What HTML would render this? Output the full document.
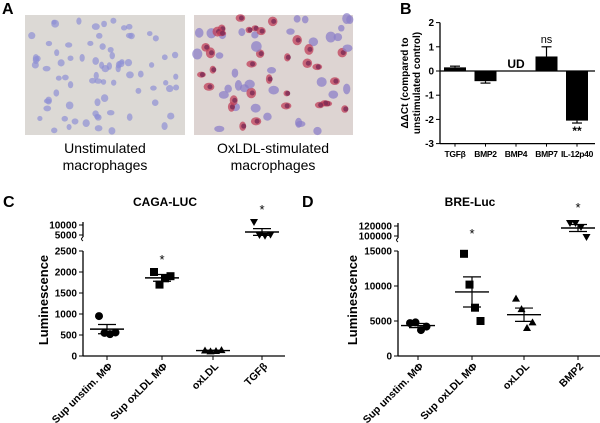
<!DOCTYPE html>
<html><head><meta charset="utf-8"><style>
html,body{margin:0;padding:0;background:#fff}
svg{display:block;font-family:"Liberation Sans",sans-serif}
</style></head><body>
<svg id="fig" width="600" height="423" viewBox="0 0 600 423">
<g id="panelA">
<text x="2" y="14" font-size="16" font-weight="bold">A</text>
<rect x="25" y="15" width="160" height="120" fill="#dcd9d5"/>
<rect x="194" y="15" width="159" height="120" fill="#ddd4d2"/>
<g id="cellsL"></g><g id="cellsR"></g>
<text x="105" y="153" font-size="14" text-anchor="middle"><tspan x="105">Unstimulated</tspan><tspan x="105" dy="17">macrophages</tspan></text>
<text x="273" y="153" font-size="14" text-anchor="middle"><tspan x="273">OxLDL-stimulated</tspan><tspan x="273" dy="17">macrophages</tspan></text>
</g>
<g id="panelB">
<text x="400" y="14" font-size="16" font-weight="bold">B</text>
<text transform="translate(408,83) rotate(-90)" font-size="10" font-weight="bold" text-anchor="middle">ΔΔCt (compared to</text>
<text transform="translate(420,83) rotate(-90)" font-size="10" font-weight="bold" text-anchor="middle">unstimulated control)</text>
<g id="bPlot"></g>
</g>
<g id="panelC">
<text x="3" y="207" font-size="16" font-weight="bold">C</text>
<text x="165" y="206" font-size="12" font-weight="bold" text-anchor="middle">CAGA-LUC</text>
<text transform="translate(48,300) rotate(-90)" font-size="13" font-weight="bold" text-anchor="middle">Luminescence</text>
<g id="cPlot"></g>
</g>
<g id="panelD">
<text x="302" y="207" font-size="16" font-weight="bold">D</text>
<text x="470" y="206" font-size="12" font-weight="bold" text-anchor="middle">BRE-Luc</text>
<text transform="translate(357,300) rotate(-90)" font-size="13" font-weight="bold" text-anchor="middle">Luminescence</text>
<g id="dPlot"></g>
</g>
</svg>
<script>
// ---- Panel B data ----
const bCats = ["TGFβ","BMP2","BMP4","BMP7","IL-12p40"];
const bVals = [0.15,-0.42,null,0.6,-2.05];
const bErr = [0.05,0.08,0,0.4,0.1];
const bTicks = [2,1,0,-1,-2,-3];
const bAnn = ["","","UD","ns","**"];
// ---- Panel C data ----
const cCats = ["Sup unstim. MΦ","Sup oxLDL MΦ","oxLDL","TGFβ"];
const cPts = [[950,550,520,560],[2000,1700,1850,1900],[130,110,120,140],[11500,5000,4600,5200]];
const cMean = [640,1860,130,6500];
const cSem = [110,80,8,1700];
const cLowTicks = [0,500,1000,1500,2000,2500];
const cHighTicks = [5000,10000];
const cStars = [false,true,false,true];
// ---- Panel D data ----
const dCats = ["Sup unstim. MΦ","Sup oxLDL MΦ","oxLDL","BMP2"];
const dPts = [[4700,4800,3700,4200],[14600,10200,6900,5000],[8200,6700,4000,4800],[126000,126000,118000,98000]];
const dMean = [4350,9150,5900,116000];
const dSem = [300,2150,950,7000];
const dLowTicks = [0,5000,10000,15000];
const dHighTicks = [100000,120000];
const dStars = [false,true,false,true];

const NS="http://www.w3.org/2000/svg";
function mk(parent,tag,attrs,name){const e=document.createElementNS(NS,tag);for(const k in attrs)e.setAttribute(k,attrs[k]);


parent.appendChild(e);return e;}

// decorative cells
(function(){let s=7;const r=()=>{s=(s*9301+49297)%233280;return s/233280;};
const L=document.getElementById('cellsL'),R=document.getElementById('cellsR');
for(let i=0;i<80;i++){mk(L,'ellipse',{cx:28+r()*154,cy:18+r()*114,rx:2.5+r()*1.5,ry:2.5+r()*1.5,fill:'#8f90d4',opacity:0.7},'cell-nucleus');}
for(let i=0;i<70;i++){const x=197+r()*153,y=18+r()*114,red=r()>0.4;
mk(R,'ellipse',{cx:x,cy:y,rx:3+r()*2.5,ry:3+r()*2.5,fill:red?'#c0405a':'#8c80c8',opacity:0.75},'cell');
if(red)mk(R,'circle',{cx:x+1,cy:y,r:2.5,fill:'#7a2a55',opacity:0.8},'cell-nucleus');}
})();

// Panel B
(function(){const g=document.getElementById('bPlot');
const y=v=>71-v*24.2; const x0=440,xE=595; const cx=i=>455+i*30.5; const bw=22;
mk(g,'line',{x1:x0,y1:y(2),x2:x0,y2:y(-3),stroke:'#000','stroke-width':1.3},'b-y-axis');
bTicks.forEach(t=>{mk(g,'line',{x1:x0-4,y1:y(t),x2:x0,y2:y(t),stroke:'#000'},'b-y-tick');
const tx=mk(g,'text',{x:x0-6,y:y(t)+3.5,'font-size':10,'font-weight':'bold','text-anchor':'end'},'b-y-tick-label');tx.textContent=t;});
mk(g,'line',{x1:x0,y1:y(-3),x2:xE,y2:y(-3),stroke:'#000','stroke-width':1.3},'b-x-axis');
bCats.forEach((c,i)=>{
mk(g,'line',{x1:cx(i),y1:y(-3),x2:cx(i),y2:y(-3)+3,stroke:'#000'},'b-x-tick');
const t=mk(g,'text',{x:cx(i),y:157,'font-size':8.5,'font-weight':'bold','letter-spacing':'-0.3','text-anchor':'middle'},'b-x-label');t.textContent=c;
const v=bVals[i];
if(v!==null){mk(g,'rect',{x:cx(i)-bw/2,y:Math.min(y(v),y(0)),width:bw,height:Math.abs(y(v)-y(0)),fill:'#000'},'bar-'+c);
const e=v+(v>=0?bErr[i]:-bErr[i]);
mk(g,'line',{x1:cx(i),y1:y(v),x2:cx(i),y2:y(e),stroke:'#000','stroke-width':1.2},'b-error-bar');
mk(g,'line',{x1:cx(i)-5,y1:y(e),x2:cx(i)+5,y2:y(e),stroke:'#000','stroke-width':1.2},'b-error-cap');}
if(bAnn[i]){let ay;if(v===null)ay=y(0)-3;else if(v>=0)ay=y(v+bErr[i])-4;else ay=y(v-bErr[i])+12;
const a=mk(g,'text',{x:cx(i),y:ay,'font-size':bAnn[i]==='ns'?11:12,'font-weight':bAnn[i]==='ns'?'normal':'bold','text-anchor':'middle'},'b-annotation');a.textContent=bAnn[i];}
});
mk(g,'line',{x1:x0,y1:y(0),x2:xE,y2:y(0),stroke:'#000','stroke-width':1.2},'b-zero-line');
})();

function marker(g,shape,x,y){const s=4;
if(shape==='circle')return mk(g,'circle',{cx:x,cy:y,r:s,fill:'#000'},'data-point');
if(shape==='square')return mk(g,'rect',{x:x-s,y:y-s,width:2*s,height:2*s,fill:'#000'},'data-point');
if(shape==='up')return mk(g,'polygon',{points:`${x},${y-s} ${x-s},${y+s-1} ${x+s},${y+s-1}`,fill:'#000'},'data-point');
return mk(g,'polygon',{points:`${x},${y+s} ${x-s},${y-s+1} ${x+s},${y-s+1}`,fill:'#000'},'data-point');}
const shapes=['circle','square','up','down'];

function scatter(gid,pfx,cats,pts,mean,sem,lowT,highT,stars,o){
const g=document.getElementById(gid);
const yl=v=>356-(v-0)*o.lowScale; const yh=v=>o.hRef-(v-o.hRefV)*o.highScale;
const lowMax=lowT[lowT.length-1];
const Y=(v,i)=>i===3?yh(v):yl(v);
const x0=o.x0;
mk(g,'line',{x1:x0,y1:356,x2:x0,y2:yl(lowMax),stroke:'#000','stroke-width':1.3},pfx+'-y-axis-lower');
mk(g,'line',{x1:x0,y1:o.hTop,x2:x0,y2:o.hBot,stroke:'#000','stroke-width':1.3},pfx+'-y-axis-upper');
mk(g,'path',{d:`M${x0},${o.hBot} q-3,2 0,4`,fill:'none',stroke:'#000','stroke-width':1},pfx+'-axis-break');
lowT.forEach(t=>{mk(g,'line',{x1:x0-4,y1:yl(t),x2:x0,y2:yl(t),stroke:'#000'},pfx+'-y-tick');
const tx=mk(g,'text',{x:x0-6,y:yl(t)+3.5,'font-size':10,'font-weight':'bold','text-anchor':'end'},pfx+'-y-tick-label');tx.textContent=t;});
highT.forEach(t=>{mk(g,'line',{x1:x0-4,y1:yh(t),x2:x0,y2:yh(t),stroke:'#000'},pfx+'-y-tick');
const tx=mk(g,'text',{x:x0-6,y:yh(t)+3.5,'font-size':10,'font-weight':'bold','text-anchor':'end'},pfx+'-y-tick-label');tx.textContent=t;});
mk(g,'line',{x1:x0,y1:356,x2:o.xE,y2:356,stroke:'#000','stroke-width':1.3},pfx+'-x-axis');
cats.forEach((c,i)=>{const cx=o.cx[i];
mk(g,'line',{x1:cx,y1:356,x2:cx,y2:360,stroke:'#000'},pfx+'-x-tick');
const t=mk(g,'text',{transform:`translate(${cx+6},367) rotate(-45)`,'font-size':10.5,'font-weight':'bold','text-anchor':'end'},pfx+'-x-label');t.textContent=c;
pts[i].forEach((v,j)=>marker(g,shapes[i],cx-8+j*5.5,Y(v,i)));
mk(g,'line',{x1:cx-17,y1:Y(mean[i],i),x2:cx+17,y2:Y(mean[i],i),stroke:'#000','stroke-width':1.4},pfx+'-mean-line');
mk(g,'line',{x1:cx,y1:Y(mean[i]-sem[i],i),x2:cx,y2:Y(mean[i]+sem[i],i),stroke:'#000','stroke-width':1.2},pfx+'-sem-bar');
[1,-1].forEach(sg=>mk(g,'line',{x1:cx-9,y1:Y(mean[i]+sg*sem[i],i),x2:cx+9,y2:Y(mean[i]+sg*sem[i],i),stroke:'#000','stroke-width':1.2},pfx+'-sem-cap'));
if(stars[i]){const s=mk(g,'text',{x:cx,y:o.starY[i],'font-size':13,'text-anchor':'middle'},pfx+'-significance-star');s.textContent='*';}
});}
scatter('cPlot','c',cCats,cPts,cMean,cSem,cLowTicks,cHighTicks,cStars,
{x0:83,xE:285,lowScale:0.042,hRef:225,hRefV:10000,highScale:0.002,hTop:222,hBot:237,cx:[107,162,213,262],starY:[0,264,0,214]});
scatter('dPlot','d',dCats,dPts,dMean,dSem,dLowTicks,dHighTicks,dStars,
{x0:398,xE:600,lowScale:0.007,hRef:226,hRefV:120000,highScale:0.0005,hTop:223,hBot:238,cx:[418,472,524,578],starY:[0,238,0,212]});
</script>
</body></html>
